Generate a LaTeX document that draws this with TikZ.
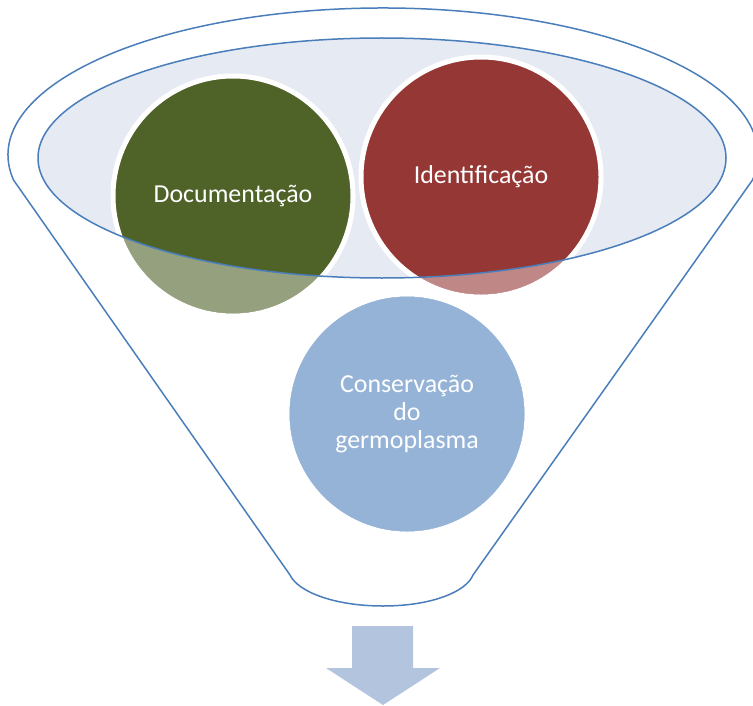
\documentclass[tikz,border=0pt]{standalone}
\usepackage{fontspec}
\setmainfont{Carlito}
\usetikzlibrary{positioning}

\definecolor{docgreen}{HTML}{4F6228}
\definecolor{idred}{HTML}{953735}
\definecolor{consblue}{HTML}{4F81BD}
\definecolor{rimblue}{HTML}{4A7EBB}
\definecolor{mouthfill}{HTML}{E5EAF3}
\definecolor{arrowblue}{HTML}{B3C4DE}

\tikzset{
  stage/.style={circle, draw=white, line width=5bp, minimum size=240bp,
                inner sep=0pt, text=white, align=center,
                font=\fontsize{26}{28}\selectfont},
  rim/.style={draw=rimblue, line width=1.5bp},
}

\begin{document}
\begin{tikzpicture}[x=1bp, y=-1bp]
\useasboundingbox (0,0) rectangle (753,706);
        % Draw the funnel
        \coordinate (fl) at (13.5,180);
        \coordinate (fr) at (752.5,180);
        \coordinate (bl) at (290,575);
        \coordinate (br) at (473,575);
        \filldraw[rim, fill=white]
            (fl) arc[start angle=170.2, end angle=369.8, x radius=375, y radius=147]
            -- (br) .. controls (466,592) and (431,606) .. (383,606)
            .. controls (335,606) and (298,592) .. (bl) -- cycle;
        % Draw the mouth
        \fill[mouthfill] (382,158) ellipse [x radius=344, y radius=120];
        % Draw the stages
        \node[stage, fill=docgreen] at (233,196)  (doc)   {Documentação};
        \node[stage, fill=idred]    at (481,177)  (ident) {Identificação};
        \node[stage, fill=consblue] at (407,414)  (cons)  {Conservação\\do\\germoplasma};
        % Fade what lies below the mouth
        \begin{scope}[even odd rule]
          \clip (0,0) rectangle (753,706) (382,158) ellipse [x radius=344, y radius=120];
          \fill[white, opacity=0.4] (doc.center) circle (117.5) (ident.center) circle (117.5)
              (cons.center) circle (117.5);
        \end{scope}
        \draw[rim] (382,158) ellipse [x radius=344, y radius=120];
        % Draw the output arrow
        \fill[arrowblue] (352,626) -- (413,626) -- (413,668) -- (440,668)
            -- (383,705) -- (326,668) -- (352,668) -- cycle;
\end{tikzpicture}
\end{document}
